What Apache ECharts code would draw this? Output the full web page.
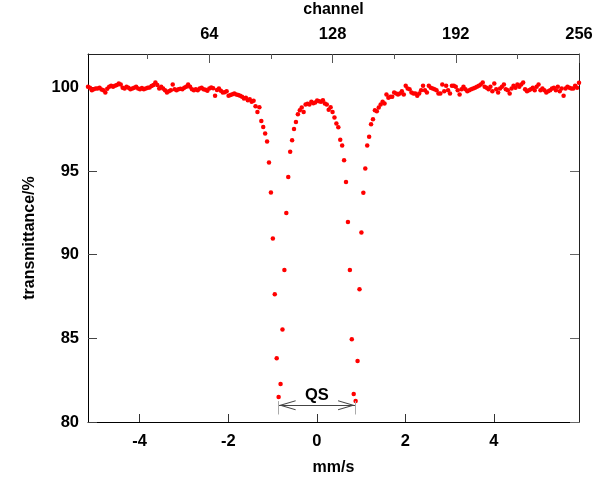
<!DOCTYPE html>
<html><head><meta charset="utf-8">
<script src="https://cdn.jsdelivr.net/npm/echarts@6/dist/echarts.min.js"></script>
<style>html,body{margin:0;padding:0;background:#fff}#c{width:600px;height:480px}</style>
</head><body><div id="c"></div>
<script>
// transmittance (%) for channels 1..256
const transmittanceLeftBase = [ // ch 1-64
  100.04, 99.98, 99.84, 99.90, 99.94, 99.94, 99.98, 99.88, 99.84, 99.70,
  99.92, 100.04, 100.10, 100.04, 100.10, 100.14, 100.24, 100.18, 99.98, 99.94,
  100.04, 99.98, 99.90, 99.94, 99.98, 100.04, 99.94, 99.90, 99.96, 99.90,
  99.94, 99.98, 100.00, 100.08, 100.14, 100.30, 100.14, 99.94, 100.04, 99.94,
  99.84, 99.70, 99.78, 99.84, 100.18, 99.90, 99.84, 99.90, 99.92, 99.90,
  99.98, 100.04, 100.18, 100.04, 99.90, 99.84, 99.90, 99.84, 99.94, 99.98,
  99.90, 99.86, 99.80, 99.94
];
const transmittanceDoublet = [ // ch 65-191
  100.00, 99.95, 99.50, 99.85, 99.94, 99.80, 99.70, 99.72, 99.78, 99.50,
  99.55, 99.60, 99.64, 99.58, 99.55, 99.50, 99.44, 99.34, 99.38, 99.24,
  99.30, 99.14, 99.20, 98.88, 98.54, 98.82, 98.00, 97.63, 97.25, 96.77,
  95.51, 93.72, 90.97, 87.64, 83.81, 81.50, 82.27, 85.53, 89.09, 92.50,
  94.64, 96.15, 96.85, 97.52, 97.94, 98.40, 98.64, 98.80, 98.54, 98.98,
  99.02, 98.98, 99.14, 99.06, 99.10, 99.22, 99.18, 99.14, 99.24, 99.04,
  98.98, 98.66, 98.82, 98.54, 98.20, 97.85, 97.62, 96.88, 96.53, 95.65,
  94.35, 91.96, 89.09, 84.95, 81.67, 81.26, 83.65, 87.94, 91.33, 93.70,
  95.16, 96.53, 97.05, 97.80, 98.10, 98.64, 98.58, 98.80, 98.98, 99.14,
  99.04, 99.58, 99.38, 99.44, 99.44, 99.70, 99.64, 99.58, 99.64, 99.78,
  99.58, 100.10, 99.94, 99.90, 99.70, 99.64, 99.64, 99.50, 99.64, 99.84,
  100.10, 99.84, 99.70, 100.10, 99.98, 99.94, 99.90, 99.84, 99.64, 99.64,
  100.18, 99.78, 100.10, 99.84, 99.64, 100.10, 100.10
];
const transmittanceRightBase = [ // ch 192-256
  100.04, 99.84, 99.58, 99.90, 100.04, 99.90, 99.78, 99.84, 99.90, 99.94,
  99.98, 100.04, 100.10, 100.18, 100.30, 100.04, 99.98, 99.90, 100.04, 99.78,
  100.24, 99.90, 99.70, 99.94, 100.04, 100.18, 99.90, 99.84, 99.64, 99.94,
  100.10, 99.98, 100.18, 100.04, 100.18, 100.30, 99.90, 99.78, 99.84, 99.90,
  99.98, 99.84, 100.04, 100.18, 99.84, 99.94, 99.84, 99.70, 99.78, 99.84,
  99.94, 99.98, 99.84, 100.04, 99.78, 99.94, 99.50, 99.94, 100.04, 99.98,
  99.94, 99.94, 100.10, 99.98, 100.28
];
const transmittance = transmittanceLeftBase.concat(transmittanceDoublet, transmittanceRightBase);

const channelRange = [1, 256];
const velocityRange = [-5.166, 5.92];
const yRange = [80, 102];
const velocityTicks = [-4, -2, 0, 2, 4];
const channelMajorTicks = [64, 128, 192, 256];
const channelMinorTicks = [32, 96, 160, 224];
const yTicks = [80, 85, 90, 95, 100];
const qsChannels = [100, 139.7];
const qsLevel = 81.0;
const qsBracket = [80.45, 81.25];
const qsText = 'QS';

const FONT = 'Liberation Sans';
const lab = {fontFamily: FONT, fontWeight: 'bold', fontSize: 16.5, color: '#000'};
const ttl = {fontFamily: FONT, fontWeight: 'bold', fontSize: 16, color: '#000'};
const arrowPath = 'path://M5,0 L10,17 L8.9,17 L5,3.6 L1.1,17 L0,17 Z';

const chart = echarts.init(document.getElementById('c'), null, {renderer: 'canvas'});
chart.setOption({
  animation: false,
  backgroundColor: '#fff',
  grid: {left: 88, right: 21, top: 54, bottom: 58, containLabel: false, outerBoundsMode: 'none'},
  xAxis: [
    {
      type: 'value', position: 'bottom', min: velocityRange[0], max: velocityRange[1],
      name: 'mm/s', nameLocation: 'middle', nameGap: 38, nameTextStyle: ttl,
      axisLine: {show: true, onZero: false, lineStyle: {color: '#000', width: 1}},
      axisTick: {show: true, inside: true, length: 8, customValues: velocityTicks, lineStyle: {color: '#333'}},
      axisLabel: Object.assign({customValues: velocityTicks, margin: 11}, lab),
      splitLine: {show: false}
    },
    {
      type: 'value', position: 'top', min: channelRange[0], max: channelRange[1],
      name: 'channel', nameLocation: 'middle', nameGap: 36, nameTextStyle: ttl,
      axisLine: {show: true, onZero: false, lineStyle: {color: '#222', width: 1}},
      axisTick: {show: true, inside: true, length: 9, customValues: channelMajorTicks, lineStyle: {color: '#555'}},
      axisLabel: Object.assign({customValues: channelMajorTicks, margin: 11}, lab),
      splitLine: {show: false}
    },
    {
      type: 'value', position: 'top', min: channelRange[0], max: channelRange[1],
      axisLine: {show: false},
      axisTick: {show: true, inside: true, length: 5, customValues: channelMinorTicks, lineStyle: {color: '#555'}},
      axisLabel: {show: false},
      splitLine: {show: false}
    }
  ],
  yAxis: [
    {
      type: 'value', position: 'left', min: yRange[0], max: yRange[1],
      name: 'transmittance/%', nameLocation: 'middle', nameGap: 50, nameTextStyle: ttl,
      axisLine: {show: true, onZero: false, lineStyle: {color: '#000', width: 1}},
      axisTick: {show: true, inside: true, length: 9, customValues: yTicks, lineStyle: {color: '#444'}},
      axisLabel: Object.assign({customValues: yTicks, margin: 9}, lab),
      splitLine: {show: false}
    },
    {
      type: 'value', position: 'right', min: yRange[0], max: yRange[1],
      axisLine: {show: true, onZero: false, lineStyle: {color: '#222', width: 1}},
      axisTick: {show: true, inside: true, length: 9, customValues: yTicks, lineStyle: {color: '#666'}},
      axisLabel: {show: false},
      splitLine: {show: false}
    }
  ],
  series: [{
    type: 'scatter',
    xAxisIndex: 1, yAxisIndex: 0,
    symbol: 'circle', symbolSize: 4.5,
    itemStyle: {color: '#ff0000', opacity: 1},
    data: transmittance.map((v, i) => [i + 1, v]),
    markLine: {
      silent: true, animation: false,
      symbol: ['none', 'none'],
      data: [
        [
          {coord: [qsChannels[0], qsLevel], symbol: arrowPath, symbolSize: [10, 17], symbolOffset: [0, 8.5],
           lineStyle: {color: '#444', width: 1, type: 'solid'}, itemStyle: {color: '#444'},
           label: Object.assign({show: true, position: 'middle', distance: 1, formatter: qsText}, lab)},
          {coord: [qsChannels[1], qsLevel], symbol: arrowPath, symbolSize: [10, 17], symbolOffset: [0, 8.5]}
        ],
        [
          {coord: [qsChannels[0], qsBracket[0]], lineStyle: {color: '#aaa', width: 1, type: 'solid'}, label: {show: false}},
          {coord: [qsChannels[0], qsBracket[1]]}
        ],
        [
          {coord: [qsChannels[1], qsBracket[0]], lineStyle: {color: '#aaa', width: 1, type: 'solid'}, label: {show: false}},
          {coord: [qsChannels[1], qsBracket[1]]}
        ]
      ]
    }
  }]
});
</script>
</body></html>
